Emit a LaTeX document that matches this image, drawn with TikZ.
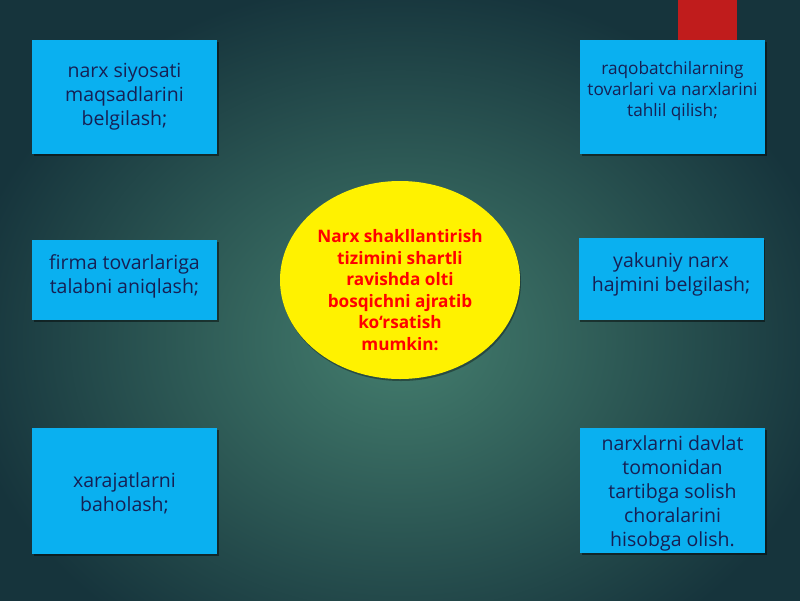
\documentclass[tikz,border=0pt]{standalone}
\usepackage{fontspec}
\setmainfont{Open Sans}
\usetikzlibrary{shadows,shapes.geometric}
\definecolor{boxblue}{RGB}{10,176,240}
\definecolor{navytext}{RGB}{22,32,84}
\definecolor{bginner}{RGB}{68,126,110}
\definecolor{bgouter}{RGB}{22,52,60}
\definecolor{redtab}{RGB}{192,28,28}
\tikzset{
  infobox/.style={rectangle, fill=boxblue, minimum width=185pt, inner sep=0pt,
    drop shadow={shadow xshift=1.5pt, shadow yshift=-2pt, opacity=0.45, fill=black}},
  bigtext/.style={font=\fontsize{19.5}{24}\selectfont, text=navytext, align=center},
  smalltext/.style={font=\fontsize{17.2}{21}\selectfont, text=navytext, align=center},
  centre/.style={ellipse, fill=yellow, minimum width=240pt, minimum height=198pt,
    inner sep=0pt, drop shadow={shadow xshift=1pt, shadow yshift=-2pt, opacity=0.35, fill=black}},
  centretext/.style={font=\fontsize{17.2}{21.5}\selectfont\bfseries, text=red, align=center}
}
\begin{document}
\begin{tikzpicture}[x=1pt,y=-1pt]
\useasboundingbox (0,0) rectangle (800,600);
\shade[inner color=bginner, outer color=bgouter] (-40,-20) rectangle (840,700);
\fill[redtab] (678,0) rectangle (737,40);

\node[infobox, minimum height=114pt] (b1) at (124.5,97) {};
\node[bigtext] (t1) at (124.5,97) {narx siyosati\\maqsadlarini\\belgilash;};

\node[infobox, minimum height=80pt] (b2) at (124.5,280) {};
\node[bigtext] (t2) at (124.5,276) {firma tovarlariga\\talabni aniqlash;};

\node[infobox, minimum height=126pt] (b3) at (124.5,490.5) {};
\node[bigtext] (t3) at (124.5,493) {xarajatlarni\\baholash;};

\node[infobox, minimum height=114pt] (b4) at (672.5,97) {};
\node[smalltext] (t4) at (672.5,91.5) {raqobatchilarning\\tovarlari va narxlarini\\tahlil qilish;};

\node[infobox, minimum height=82pt] (b5) at (671,279) {};
\node[bigtext] (t5) at (671,274.5) {yakuniy narx\\hajmini belgilash;};

\node[infobox, minimum height=125pt] (b6) at (672.5,490.5) {};
\node[bigtext] (t6) at (672.5,493) {narxlarni davlat\\tomonidan\\tartibga solish\\choralarini\\hisobga olish.};

\node[centre] (c) at (400,280) {};
\node[centretext] (ct) at (400,290) {Narx shakllantirish\\tizimini shartli\\ravishda olti\\bosqichni ajratib\\ko‘rsatish\\mumkin:};
\end{tikzpicture}
\end{document}
